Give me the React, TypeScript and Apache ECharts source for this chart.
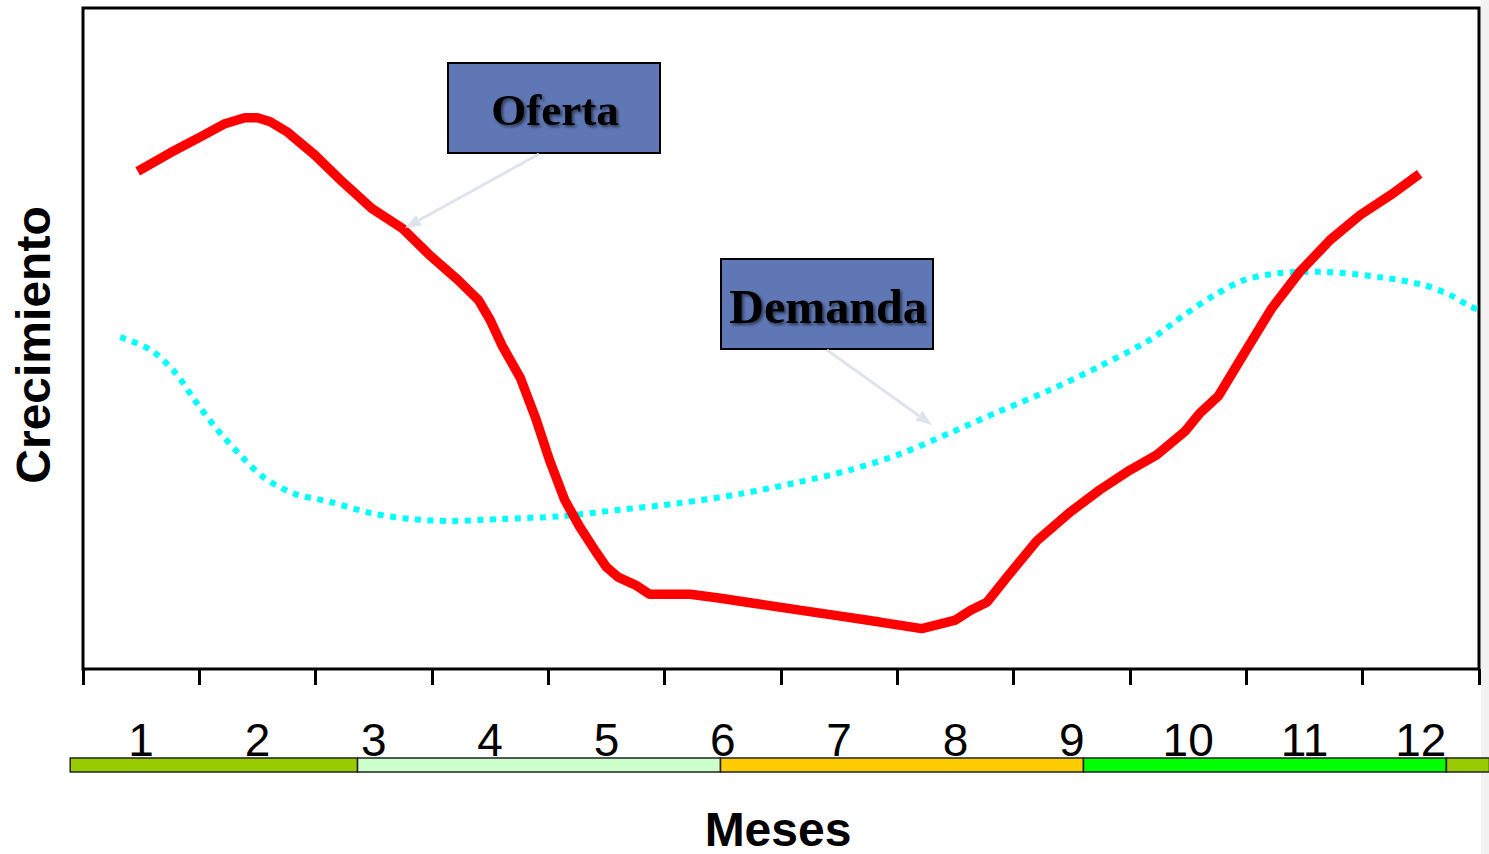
import React, { useEffect, useRef } from "react";
import * as echarts from "echarts";

const months = ["1", "2", "3", "4", "5", "6", "7", "8", "9", "10", "11", "12"];

// Oferta (supply) curve: [month position, growth]
const ofertaX = [0.97, 1.25, 1.51, 1.72, 1.89, 2.0, 2.11, 2.26, 2.49, 2.73, 2.98, 3.25, 3.48, 3.72, 3.9, 4.0, 4.1, 4.26, 4.39, 4.51, 4.64, 4.77, 4.91, 5.0, 5.1, 5.25, 5.37, 5.72, 5.98, 6.32, 6.66, 7.01, 7.35, 7.71, 8.0, 8.13, 8.27, 8.47, 8.7, 8.99, 9.24, 9.5, 9.73, 9.97, 10.1, 10.26, 10.49, 10.72, 10.96, 11.22, 11.48, 11.74, 11.99];
const ofertaY = [75.3, 78.1, 80.5, 82.5, 83.4, 83.4, 82.8, 81.2, 77.8, 73.7, 69.7, 66.6, 62.6, 58.9, 55.8, 52.8, 49.0, 44.0, 38.0, 31.6, 25.6, 21.5, 17.7, 15.4, 13.9, 12.7, 11.3, 11.3, 10.7, 9.8, 8.9, 8.0, 7.1, 6.1, 7.4, 8.9, 10.1, 14.5, 19.4, 23.8, 27.1, 30.1, 32.4, 35.9, 38.7, 41.3, 48.0, 54.6, 60.1, 64.9, 68.7, 71.7, 74.9];

// Demanda (demand) curve
const demandaX = [0.82, 1.08, 1.29, 1.46, 1.64, 1.85, 2.06, 2.32, 2.62, 2.97, 3.31, 3.66, 4.09, 4.6, 5.12, 5.63, 6.15, 6.66, 7.09, 7.52, 7.95, 8.38, 8.81, 9.24, 9.67, 9.97, 10.23, 10.49, 10.79, 11.13, 11.68, 12.02, 12.25, 12.4, 12.57];
const demandaY = [50.2, 48.3, 44.9, 40.7, 36.5, 32.4, 28.9, 26.5, 25.3, 23.6, 22.7, 22.4, 22.7, 23.1, 24.1, 25.1, 26.5, 28.3, 30.1, 32.5, 35.7, 39.0, 42.2, 45.8, 49.8, 53.6, 56.6, 58.9, 59.9, 60.1, 59.2, 58.1, 56.6, 55.1, 53.7];

// Season band under the month labels: [start month, end month]
const bandStart = [0.39, 2.86, 5.98, 9.1, 12.22];
const bandEnd = [2.86, 5.98, 9.1, 12.22, 12.59];
const bandColors = ["#99cc00", "#ccffcc", "#ffcc00", "#00ff00", "#99cc00"];

function arrow(x1: number, y1: number, x2: number, y2: number, color: string) {
  const ang = Math.atan2(y2 - y1, x2 - x1);
  const len = 16;
  const half = 6;
  const bx = x2 - len * Math.cos(ang);
  const by = y2 - len * Math.sin(ang);
  const px = -Math.sin(ang) * half;
  const py = Math.cos(ang) * half;
  return [
    {
      type: "line",
      shape: { x1, y1, x2: bx, y2: by },
      style: { stroke: color, lineWidth: 3 },
      z: 20,
    },
    {
      type: "polygon",
      shape: { points: [[x2, y2], [bx + px, by + py], [bx - px, by - py]] },
      style: { fill: color },
      z: 20,
    },
  ];
}

export default function App() {
  const ref = useRef<HTMLDivElement>(null);
  useEffect(() => {
    if (!ref.current) return;
    const chart = echarts.init(ref.current, null, { renderer: "svg" });
    const ofertaData = ofertaX.map((x, i) => [x, ofertaY[i]]);
    const demandaData = demandaX.map((x, i) => [x, demandaY[i]]);
    const bandData = bandStart.map((s, i) => [s, bandEnd[i], i]);
    const labelBox = {
      fill: "#5f77b4",
      stroke: "#000",
      lineWidth: 2,
    };
    const textShadow = {
      textShadowColor: "rgba(0,0,0,0.55)",
      textShadowBlur: 3,
      textShadowOffsetX: 2,
      textShadowOffsetY: 2,
    };
    chart.setOption({
      animation: false,
      backgroundColor: "#ffffff",
      grid: [
        { left: 83, right: 10, top: 8, bottom: 185, show: true, borderColor: "#000", borderWidth: 3, backgroundColor: "transparent" },
        { left: 83, right: 10, top: 758, height: 14 },
      ],
      xAxis: [
        {
          type: "category",
          gridIndex: 0,
          data: months,
          boundaryGap: true,
          axisLine: { show: false },
          axisTick: { show: true, length: 16, lineStyle: { color: "#000", width: 3 } },
          axisLabel: { fontFamily: "Liberation Sans, Arial, sans-serif", fontSize: 46, color: "#000", margin: 48 },
          splitLine: { show: false },
        },
        { type: "value", gridIndex: 0, min: 0.5, max: 12.5, show: false },
        { type: "value", gridIndex: 1, min: 0.5, max: 12.5, show: false },
      ],
      yAxis: [
        { type: "value", gridIndex: 0, min: 0, max: 100, show: false },
        { type: "value", gridIndex: 1, min: 0, max: 1, show: false },
      ],
      series: [
        {
          type: "custom",
          name: "Estaciones",
          xAxisIndex: 2,
          yAxisIndex: 1,
          clip: false,
          data: bandData,
          z: 1,
          renderItem: (params: any, api: any) => {
            const p1 = api.coord([api.value(0), 1]);
            const p2 = api.coord([api.value(1), 0]);
            return {
              type: "rect",
              shape: { x: p1[0], y: p1[1], width: p2[0] - p1[0], height: p2[1] - p1[1] },
              style: { fill: bandColors[api.value(2)], stroke: "#222", lineWidth: 1.5 },
            };
          },
        },
        {
          type: "line",
          name: "Demanda",
          xAxisIndex: 1,
          yAxisIndex: 0,
          data: demandaData,
          smooth: 0.3,
          clip: false,
          showSymbol: false,
          symbol: "none",
          lineStyle: { color: "#00ffff", width: 6, type: [6, 6.5], cap: "butt" },
          z: 3,
        },
        {
          type: "line",
          name: "Oferta",
          xAxisIndex: 1,
          yAxisIndex: 0,
          data: ofertaData,
          clip: false,
          showSymbol: false,
          symbol: "none",
          lineStyle: { color: "#ff0000", width: 9.5, cap: "butt", join: "bevel" },
          z: 4,
        },
      ],
      graphic: [
        {
          type: "rect",
          shape: { x: 1481, y: 0, width: 8, height: 854 },
          style: { fill: "#f2f2f2" },
          z: -10,
          silent: true,
        },
        {
          type: "text",
          x: 33,
          y: 345,
          rotation: Math.PI / 2,
          style: {
            text: "Crecimiento",
            fontFamily: "Liberation Sans, Arial, sans-serif",
            fontWeight: "bold",
            fontSize: 48,
            fill: "#000",
            align: "center",
            verticalAlign: "middle",
          },
        },
        {
          type: "text",
          x: 778,
          y: 829,
          style: {
            text: "Meses",
            fontFamily: "Liberation Sans, Arial, sans-serif",
            fontWeight: "bold",
            fontSize: 48,
            lineHeight: 44,
            fill: "#000",
            align: "center",
            verticalAlign: "middle",
          },
        },
        {
          type: "rect",
          shape: { x: 448, y: 63, width: 212, height: 90 },
          style: labelBox,
          z: 15,
        },
        {
          type: "text",
          x: 555,
          y: 110,
          z: 16,
          style: {
            text: "Oferta",
            fontFamily: "Liberation Serif, Times New Roman, serif",
            fontWeight: "bold",
            fontSize: 45,
            fill: "#000",
            align: "center",
            verticalAlign: "middle",
            ...textShadow,
          },
        },
        {
          type: "rect",
          shape: { x: 721, y: 259, width: 212, height: 90 },
          style: labelBox,
          z: 15,
        },
        {
          type: "text",
          x: 828,
          y: 306,
          z: 16,
          style: {
            text: "Demanda",
            fontFamily: "Liberation Serif, Times New Roman, serif",
            fontWeight: "bold",
            fontSize: 48,
            fill: "#000",
            align: "center",
            verticalAlign: "middle",
            ...textShadow,
          },
        },
        ...arrow(539, 154, 405, 228, "#dfe4ec"),
        ...arrow(827, 350, 932, 425, "#dfe4ec"),
      ],
    });
    return () => chart.dispose();
  }, []);
  return (
    <div
      ref={ref}
      style={{ position: "absolute", left: 0, top: 0, width: 1489, height: 854 }}
    />
  );
}
